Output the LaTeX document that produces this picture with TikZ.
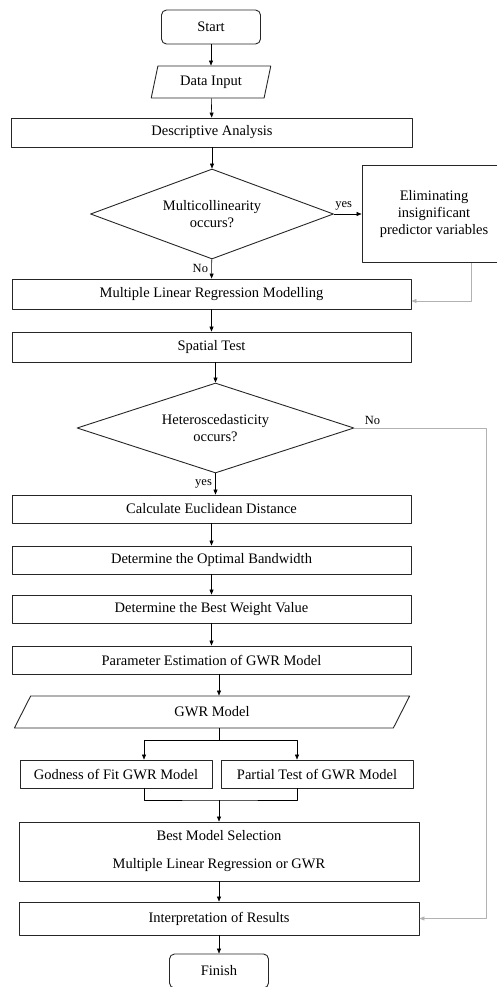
\documentclass[tikz,border=0pt]{standalone}
\usepackage{fontspec}
\setmainfont{Liberation Serif}
\usetikzlibrary{shapes.geometric,arrows.meta,calc}

\begin{document}
\begin{tikzpicture}[x=1pt, y=-1pt, font=\fontsize{14.5}{17}\selectfont, line join=round, >={Triangle[length=5pt,width=4pt]}]
	\tikzset{
	box/.style={draw=black!85, line width=0.9pt, minimum height=29pt, inner sep=2pt, align=center},
	proc/.style={box, minimum width=399pt},
	term/.style={box, rounded corners=5pt, minimum width=99pt, minimum height=34pt},
	io/.style={box, trapezium, trapezium left angle=76, trapezium right angle=104, trapezium stretches=true, minimum height=32pt},
	cond/.style={box, diamond, inner sep=0pt, minimum height=90pt},
	line/.style={line width=0.6pt},
	link/.style={line width=0.8pt, draw=gray!60},
	tag/.style={font=\fontsize{12.5}{14}\selectfont}
	}
	\useasboundingbox (0,0) rectangle (496,987);
	\node[term] (start) at (211,27) {Start};
	\node[io, minimum width=120pt] (input) at (211,82) {Data Input};
	\node[proc, minimum width=401pt] (desc) at (212,132.5) {Descriptive Analysis};
	\node[cond, aspect=2.7, minimum width=243pt] (multi) at (212,214) {Multicollinearity\\occurs?};
	\node[box, minimum width=144pt, minimum height=97pt] (elim) at (434,214) {Eliminating\\insignificant\\predictor variables};
	\node[proc, minimum height=30pt] (mlr) at (211.5,294) {Multiple Linear Regression Modelling};
	\node[proc, minimum height=30pt] (spatial) at (211.5,347) {Spatial Test};
	\node[cond, aspect=3.1, minimum width=277pt] (hetero) at (215.5,428) {Heteroscedasticity\\occurs?};
	\node[proc, minimum height=28pt] (dist) at (211.5,509) {Calculate Euclidean Distance};
	\node[proc, minimum height=28pt] (band) at (211.5,560) {Determine the Optimal Bandwidth};
	\node[proc, minimum height=28pt] (weight) at (211.5,609) {Determine the Best Weight Value};
	\node[proc, minimum height=28pt] (param) at (211.5,660) {Parameter Estimation of GWR Model};
	\node[io, minimum width=398pt] (gwr) at (212,712) {GWR Model};
	\node[box, minimum width=192pt, minimum height=28pt] (fit) at (116,774) {Godness of Fit GWR Model};
	\node[box, minimum width=192pt, minimum height=28pt] (partial) at (317,774) {Partial Test of GWR Model};
	\node[proc, minimum width=400pt, minimum height=59pt] (best) at (219,851.5) {Best Model Selection\\[11pt]Multiple Linear Regression or GWR};
	\node[proc, minimum width=400pt, minimum height=33pt] (interp) at (219,918.5) {Interpretation of Results};
	\node[term] (finish) at (219,971) {Finish};
	\coordinate (split) at (219,740);
	\coordinate (merge) at (219,800);
	\draw[line,->] (start) -- (input);
	\draw[line,->] (input) -- (desc);
	\draw[line,->] (desc) -- (multi);
	\draw[line,->] (multi) -- node[tag, above, pos=0.35]{yes} (elim);
	\draw[line,->] (multi) -- node[tag, left]{No} (mlr);
	\draw[link,->] ($(elim.south)+(37,0)$) |- ($(mlr.east)+(0,7)$);
	\draw[line,->] (mlr) -- (spatial);
	\draw[line,->] (hetero.north |- spatial.south) -- (hetero.north);
	\draw[link,->] (hetero.east) -- node[tag, above right, pos=0.05]{No} ++(132,0) |- (interp.east);
	\draw[line,->] (hetero.south) -- node[tag, left]{yes} (hetero.south |- dist.north);
	\draw[line,->] (dist) -- (band);
	\draw[line,->] (band) -- (weight);
	\draw[line,->] (weight) -- (param);
	\draw[line,->] (split |- param.south) -- (split |- gwr.north);
	\draw[line] (split |- gwr.south) -- (split);
	\draw[line,->] (split) -| ($(fit.north)+(28,0)$);
	\draw[line,->] (split) -| ($(partial.north)+(-20,0)$);
	\draw[line] ($(fit.south)+(28,0)$) |- (merge) -| ($(partial.south)+(-20,0)$);
	\draw[line,->] (merge) -- (best);
	\draw[line,->] (best) -- (interp);
	\draw[line,->] (interp) -- (finish);
\end{tikzpicture}
\end{document}
